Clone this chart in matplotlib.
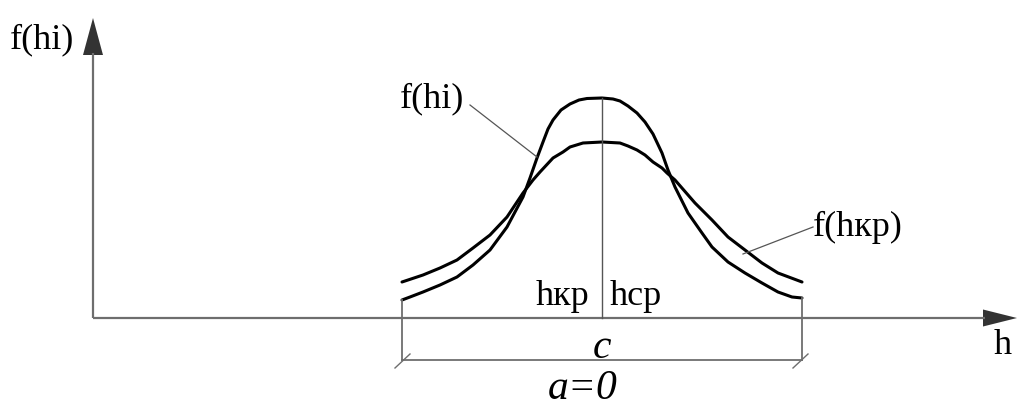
import matplotlib
matplotlib.use("Agg")
import matplotlib.pyplot as plt

plt.rcParams["font.family"] = ["Liberation Serif", "DejaVu Serif"]

# Distribution curves (h along the axis, f(h) height above it)
hi_h = [309, 317, 330, 347, 364, 380, 397, 414, 430, 437, 444, 450, 455, 460,
        468, 477, 486, 494, 509, 520, 527, 535, 544, 552, 560, 569, 575, 582,
        595, 609, 619, 635, 652, 669, 685, 699, 709]
hi_f = [18, 21, 26, 33, 41, 53, 68, 91, 121, 140, 160, 176, 189, 198,
        208, 214, 218, 219.5, 220, 219, 217, 212, 205, 196, 184, 165, 148, 131,
        105, 85, 71, 56, 45, 35, 26, 21, 20]

hkr_h = [309, 330, 347, 364, 380, 397, 414, 430, 440, 447, 460, 470, 477, 490,
         509, 527, 535, 544, 552, 560, 569, 574, 582, 602, 619, 635, 652, 669,
         685, 709]
hkr_f = [36, 43, 50, 58, 70, 83, 101, 125, 138, 146, 160, 166, 171, 175,
         176, 175, 172, 168, 163, 156, 150, 145, 138, 115, 98, 81, 68, 55,
         45, 36]

h_center = 509          # position of h_kr / h_sr
h_left, h_right = 309, 709

axis_label_y = "f(hi)"
axis_label_x = "h"
curve_label_hi = "f(hi)"
curve_label_hkr = "f(hкр)"
label_hkr = "hкр"
label_hsr = "hср"
label_c = "c"
label_a = "a=0"

W, H, DPI = 1017, 399, 100
fig = plt.figure(figsize=(W / DPI, H / DPI), dpi=DPI)
ax = fig.add_axes([0, 0, 1, 1])
ax.set_xlim(-93, W - 93)
ax.set_ylim(318 - H, 318)
ax.axis("off")

axis_col = "#6e6e6e"
thin_col = "#555555"
head_col = "#333333"

# coordinate axes with filled arrowheads
ax.plot([0, 0], [0, 265], color=axis_col, lw=1.6, solid_capstyle="butt")
ax.plot([0, 892], [0, 0], color=axis_col, lw=1.6, solid_capstyle="butt")
ax.fill([-10, 10, 0], [263, 263, 300], color=head_col, lw=0)
ax.fill([890, 890, 924], [8.5, -8.5, 0], color=head_col, lw=0)

# the two distribution curves
ax.plot(hi_h, hi_f, color="black", lw=2.2, solid_joinstyle="round", solid_capstyle="round")
ax.plot(hkr_h, hkr_f, color="black", lw=2.2, solid_joinstyle="round", solid_capstyle="round")

# centre line
ax.plot([h_center, h_center], [0, max(hi_f)], color=thin_col, lw=1.0)

# dimension lines for the interval c
ax.plot([h_left, h_left], [hi_f[0], -42], color=axis_col, lw=1.3)
ax.plot([h_right, h_right], [hi_f[-1], -42], color=axis_col, lw=1.3)
ax.plot([h_left, h_right], [-42, -42], color=axis_col, lw=1.3)
ax.plot([h_left - 7, h_left + 8], [-50, -36], color=axis_col, lw=1.0)
ax.plot([h_right - 9, h_right + 6], [-50, -36], color=axis_col, lw=1.0)

# leader lines to the curve labels
ax.plot([377, 444], [213, 161], color=thin_col, lw=0.9)
ax.plot([720, 650], [91, 64], color=thin_col, lw=0.9)

fs = 26
ax.text(-51, 278, axis_label_y, fontsize=fs, ha="center", va="center")
ax.text(910, -27, axis_label_x, fontsize=fs, ha="center", va="center")
ax.text(339, 219, curve_label_hi, fontsize=fs, ha="center", va="center")
ax.text(765, 91, curve_label_hkr, fontsize=fs, ha="center", va="center")
ax.text(469, 13, label_hkr, fontsize=fs, ha="center", va="baseline")
ax.text(543, 13, label_hsr, fontsize=fs, ha="center", va="baseline")
ax.text(509, -40, label_c, fontsize=30, style="italic", ha="center", va="baseline")
ax.text(490, -81, label_a, fontsize=30, style="italic", ha="center", va="baseline")

fig.savefig("out.png", dpi=DPI)
